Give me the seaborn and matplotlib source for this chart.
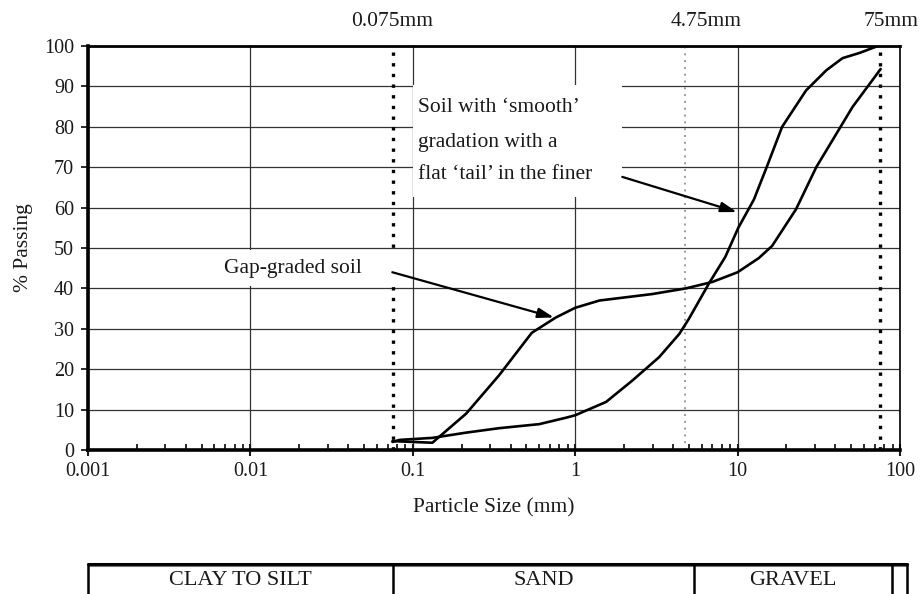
import numpy as np
import pandas as pd
import matplotlib
matplotlib.use("Agg")
import matplotlib.pyplot as plt
from matplotlib.patches import Rectangle
from matplotlib.ticker import FixedLocator, LogLocator, NullFormatter
import seaborn as sns

# ---------------- data ----------------
smooth_size = [0.075, 0.083, 0.132, 0.213, 0.34, 0.6, 0.88, 1.0, 1.55, 2.25, 3.29,
               4.37, 5.0, 6.7, 8.4, 10.1, 12.6, 15.1, 18.8, 26.4, 35.2, 44.3, 56.5, 73]
smooth_pass = [2.0, 2.5, 3.0, 4.3, 5.4, 6.4, 8.0, 8.6, 11.9, 17.2, 23.0,
               28.7, 32.4, 41.4, 47.8, 55.0, 62.0, 70.0, 80.0, 89.0, 94.0, 97.0, 98.3, 100.0]

gap_size = [0.075, 0.132, 0.213, 0.34, 0.54, 0.76, 1.0, 1.41, 2.98, 4.8, 7.0,
            10.0, 13.5, 16.3, 22.9, 30.5, 51, 76]
gap_pass = [2.2, 1.8, 9.0, 18.5, 29.0, 32.8, 35.2, 37.0, 38.6, 40.0, 41.6,
            44.0, 47.5, 50.5, 59.6, 70.0, 84.9, 94.3]

x_ticks = [0.001, 0.01, 0.1, 1, 10, 100]
x_tick_labels = ["0.001", "0.01", "0.1", "1", "10", "100"]
y_ticks = [0, 10, 20, 30, 40, 50, 60, 70, 80, 90, 100]

sieve_sizes = [0.075, 4.75, 75]
sieve_labels = ["0.075mm", "4.75mm", "75mm"]
sieve_label_pos = [0.075, 6.4, 88]

table_labels = ["CLAY TO SILT", "SAND", "GRAVEL", ""]
table_bounds = [0.001, 0.075, 5.4, 89, 110]

df = pd.concat([
    pd.DataFrame({"size": smooth_size, "passing": smooth_pass, "soil": "smooth"}),
    pd.DataFrame({"size": gap_size, "passing": gap_pass, "soil": "gap"}),
], ignore_index=True)

# ---------------- style ----------------
sns.set_theme(style="white")
plt.rcParams["font.family"] = ["Liberation Serif", "DejaVu Serif"]
plt.rcParams["text.color"] = "#1a1a1a"
plt.rcParams["axes.labelcolor"] = "#1a1a1a"
plt.rcParams["xtick.color"] = "#1a1a1a"
plt.rcParams["ytick.color"] = "#1a1a1a"

FS = 15.5
TFS = 14.5

W, H = 924, 594
fig = plt.figure(figsize=(W / 100, H / 100), dpi=100)
ax_l, ax_r, ax_t, ax_b = 88, 900, 46, 450
ax = fig.add_axes([ax_l / W, 1 - ax_b / H, (ax_r - ax_l) / W, (ax_b - ax_t) / H])

sns.lineplot(data=df, x="size", y="passing", hue="soil", units="soil",
             palette=["black", "black"], estimator=None, sort=False,
             legend=False, linewidth=1.9, ax=ax, zorder=3)

ax.set_xscale("log")
ax.set_xlim(0.001, 100)
ax.set_ylim(0, 100)

# grid
ax.set_axisbelow(True)
ax.grid(True, which="major", color="#333333", linewidth=0.9)
ax.xaxis.set_major_locator(FixedLocator(x_ticks))
ax.set_xticklabels(x_tick_labels)
ax.xaxis.set_minor_locator(LogLocator(base=10, subs=np.arange(2, 10)))
ax.xaxis.set_minor_formatter(NullFormatter())
ax.set_yticks(y_ticks)
ax.tick_params(axis="x", which="major", direction="inout", length=8, width=1.5,
               labelsize=TFS, pad=5, bottom=True)
ax.tick_params(axis="x", which="minor", direction="in", length=4, width=1.3, bottom=True)
ax.tick_params(axis="y", which="major", direction="out", length=5, width=1.3,
               labelsize=TFS, pad=5, left=True)

for side, lw in [("left", 2.6), ("bottom", 2.6), ("top", 2.0), ("right", 1.2)]:
    ax.spines[side].set_visible(True)
    ax.spines[side].set_color("black")
    ax.spines[side].set_linewidth(lw)

ax.set_xlabel("Particle Size (mm)", fontsize=FS, labelpad=12)
ax.set_ylabel("% Passing", fontsize=FS, labelpad=8)

# sieve lines
ax.axvline(sieve_sizes[0], color="black", linestyle=(0, (1, 2.2)), linewidth=2.4, zorder=2)
ax.axvline(sieve_sizes[1], color="#9a9a9a", linestyle=(0, (1, 2.5)), linewidth=1.4, zorder=2)
ax.axvline(sieve_sizes[2], color="black", linestyle=(0, (1, 2.2)), linewidth=2.4, zorder=2)
for lab, pos in zip(sieve_labels, sieve_label_pos):
    ax.text(pos, 1.06, lab, transform=ax.get_xaxis_transform(), ha="center",
            va="center", fontsize=FS, clip_on=False)

# annotation boxes (white backgrounds hiding the grid)
ax.add_patch(Rectangle((0.0052, 40.6), 0.0805 - 0.0052, 49.4 - 40.6,
                       facecolor="white", edgecolor="none", zorder=2.5))
ax.add_patch(Rectangle((0.1005, 62.6), 1.95 - 0.1005, 90.3 - 62.6,
                       facecolor="white", edgecolor="none", zorder=2.5))

ax.text(0.0183, 45.0, "Gap-graded soil", ha="center", va="center", fontsize=FS, zorder=4)
ax.text(0.107, 84.7, "Soil with \u2018smooth\u2019", ha="left", va="center", fontsize=FS, zorder=4)
ax.text(0.107, 76.2, "gradation with a", ha="left", va="center", fontsize=FS, zorder=4)
ax.text(0.107, 68.3, "flat \u2018tail\u2019 in the finer", ha="left", va="center", fontsize=FS, zorder=4)

arrow = dict(arrowstyle="-|>,head_length=0.8,head_width=0.25", color="black",
             linewidth=1.6, shrinkA=0, shrinkB=0)
ax.annotate("", xy=(0.74, 32.8), xytext=(0.0748, 44.0), arrowprops=arrow, zorder=4)
ax.annotate("", xy=(9.9, 58.9), xytext=(1.95, 67.6), arrowprops=arrow, zorder=4)

# classification table
tab = fig.add_axes([ax_l / W, 0.0, (ax_r - ax_l) / W, 30 / H])
tab.set_xscale("log")
tab.set_xlim(0.001, 100)
tab.set_ylim(0, 1)
tab.axis("off")
tab.plot([table_bounds[0], table_bounds[-1]], [1, 1], color="black", linewidth=2.2,
         clip_on=False)
tab.plot([table_bounds[0], table_bounds[-1]], [0.93, 0.93], color="#777777", linewidth=0.8,
         clip_on=False)
for b in table_bounds:
    tab.plot([b, b], [-0.2, 1], color="black", linewidth=1.8, clip_on=False)
for i, lab in enumerate(table_labels):
    if lab:
        cx = np.sqrt(table_bounds[i] * table_bounds[i + 1])
        tab.text(cx, 0.45, lab, ha="center", va="center", fontsize=FS + 0.5)

fig.savefig("out.png", dpi=100)
